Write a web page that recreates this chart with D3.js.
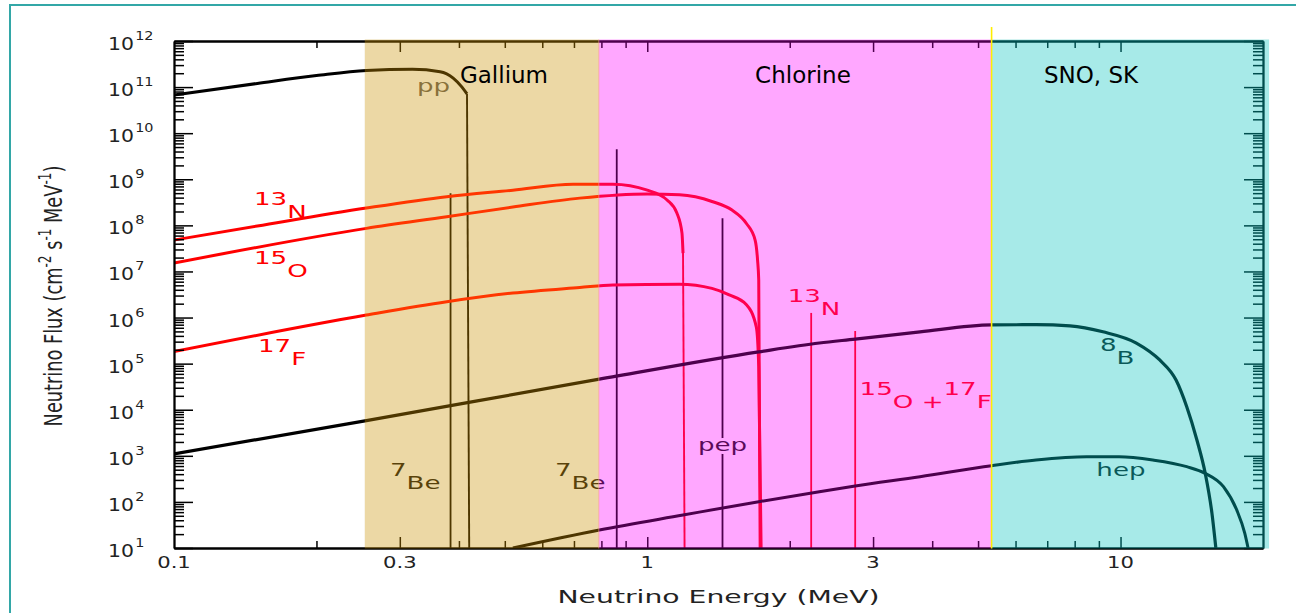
<!DOCTYPE html>
<html>
<head>
<meta charset="utf-8">
<script src="https://cdn.jsdelivr.net/npm/d3@7"></script>
<style>
  body { margin: 0; background: #fff; }
  svg { display: block; }
  text { font-family: "DejaVu Sans", sans-serif; }
</style>
</head>
<body>
<div id="chart"></div>
<script>
// Overall size and the plot box
const W = 1296, H = 613;
const margin = {top: 41, right: 33, bottom: 65, left: 174};

// Detector thresholds (MeV)
const bandNames = ["Gallium", "Chlorine", "SNO, SK"];
const bandFrom = [0.253, 0.79, 5.34];
const bandTo = [0.79, 5.34, 20.6];
const bandColors = ["#ecd9a6", "#ffa8ff", "#a8eae8"];   // colour as seen
const bandTints = ["#ffb400", "#ff00ff", "#00ffff"];    // what the band does to the lines in it
const bandTitleE = [0.402, 1.69, 6.89];
const tintAlpha = 0.3;

// Continuum spectra: energy (MeV) and flux (cm^-2 s^-1 MeV^-1)
const ppEnergy = [0.1, 0.15, 0.2, 0.255, 0.319, 0.365, 0.389, 0.406, 0.416, 0.4205];
const ppFlux   = [6.7e10, 1.2e11, 1.78e11, 2.3e11, 2.43e11, 2.16e11, 1.57e11, 1.0e11, 7.1e10, 10];

const n13Energy = [0.1, 0.15, 0.255, 0.377, 0.52, 0.697, 0.846, 1.0, 1.101, 1.155, 1.184, 1.19, 1.199];
const n13Flux   = [4.8e7, 9.7e7, 2.38e8, 4.2e8, 5.8e8, 7.8e8, 7.8e8, 5.8e8, 3.55e8, 1.85e8, 6.8e7, 2.5e7, 10];

const o15Energy = [0.1, 0.255, 0.377, 0.52, 0.72, 1.0, 1.17, 1.37, 1.51, 1.62, 1.69, 1.71, 1.72, 1.732];
const o15Flux   = [1.52e7, 8.6e7, 1.54e8, 2.5e8, 3.9e8, 4.8e8, 4.6e8, 3.3e8, 2.15e8, 1.1e8, 4.8e7, 1.8e7, 6.5e6, 10];

const f17Energy = [0.1, 0.255, 0.377, 0.52, 0.72, 0.846, 1.17, 1.37, 1.49, 1.62, 1.70, 1.72, 1.74];
const f17Flux   = [1.82e5, 1.13e6, 2.2e6, 3.4e6, 4.5e6, 5.1e6, 5.3e6, 4.3e6, 3.1e6, 1.9e6, 6.2e5, 8.5e4, 10];

const b8Energy = [0.1, 0.255, 0.792, 1.72, 2.31, 2.75, 3.77, 5.34, 6.63, 7.82, 9.18, 10.8, 12.1, 13.1, 13.8, 14.5, 15.1, 15.6, 15.9];
const b8Flux   = [1.1e3, 5.8e3, 4.6e4, 1.8e5, 2.8e5, 3.4e5, 4.9e5, 6.9e5, 7.0e5, 6.6e5, 4.9e5, 2.8e5, 1.2e5, 4.4e4, 1.16e4, 2.2e3, 417, 57, 10];

const hepEnergy = [0.52, 0.792, 1.19, 1.72, 2.31, 2.75, 3.77, 5.34, 6.63, 8.48, 9.93, 11.7, 13.8, 15.1, 16.5, 17.6, 18.3, 18.6];
const hepFlux   = [10, 24.6, 52, 101, 166, 221, 352, 611, 811, 957, 957, 811, 581, 417, 214, 67, 21, 10];

// Line spectra
const lineNames  = ["7Be", "7Be", "pep", "13N", "15O+17F"];
const lineEnergy = [0.384, 0.862, 1.442, 2.22, 2.75];
const lineFlux   = [5.0e8, 4.5e9, 1.42e8, 1.26e6, 5.1e5];
const lineColors = ["#000", "#000", "#000", "#ff0000", "#ff0000"];

// Axis ticks
const xMajor = [0.3, 1, 3, 10];
const xMinor = [0.2, 0.4, 0.5, 0.6, 0.7, 0.8, 0.9, 2, 4, 5, 6, 7, 8, 9];
const xLabels = ["0.1", "0.3", "1", "3", "10"];
const xLabelAt = [0.1, 0.3, 1, 3, 10];
const yExponents = [1, 2, 3, 4, 5, 6, 7, 8, 9, 10, 11, 12];

const x = d3.scaleLog().domain([0.1, 20]).range([margin.left, W - margin.right]);
const y = d3.scaleLog().domain([10, 1e12]).range([H - margin.bottom, margin.top]);

const svg = d3.select("#chart").append("svg")
    .attr("width", W)
    .attr("height", H);

// base colour chosen so that base + tint overlay gives the seen colour
function baseColor(seen, tint) {
  const s = d3.rgb(seen), t = d3.rgb(tint), a = tintAlpha;
  const f = (c1, c2) => Math.max(0, Math.min(255, (c1 - a * c2) / (1 - a)));
  return d3.rgb(f(s.r, t.r), f(s.g, t.g), f(s.b, t.b)).formatHex();
}

const bands = bandNames.map((n, i) => ({
  name: n, from: bandFrom[i], to: bandTo[i], titleE: bandTitleE[i],
  base: baseColor(bandColors[i], bandTints[i]), tint: bandTints[i]
}));
const yTop = y(1e12) - 1.5, yBot = y(10) + 0.5;

// background bands
svg.append("g")
  .selectAll("rect")
  .data(bands)
  .join("rect")
  .attr("x", d => x(d.from))
  .attr("width", d => x(d.to) - x(d.from))
  .attr("y", yTop)
  .attr("height", yBot - yTop)
  .attr("fill", d => d.base);

svg.append("clipPath").attr("id", "plot")
  .append("rect")
  .attr("x", x(0.1)).attr("y", y(1e12))
  .attr("width", x(20) - x(0.1)).attr("height", y(10) - y(1e12));

// thinTail: the endpoint drop is drawn as a thin line
const curves = [
  {e: ppEnergy, f: ppFlux, color: "#000", w: 3, thinTail: true},
  {e: n13Energy, f: n13Flux, color: "#ff0000", w: 3, thinTail: true},
  {e: o15Energy, f: o15Flux, color: "#ff0000", w: 3},
  {e: f17Energy, f: f17Flux, color: "#ff0000", w: 3},
  {e: b8Energy, f: b8Flux, color: "#000", w: 3.2},
  {e: hepEnergy, f: hepFlux, color: "#000", w: 3}
];

const line = d3.line()
  .x(d => x(d[0]))
  .y(d => y(d[1]))
  .curve(d3.curveMonotoneX);

const plot = svg.append("g").attr("clip-path", "url(#plot)");

// monochromatic lines
plot.append("g")
  .selectAll("line")
  .data(lineEnergy.map((e, i) => ({e, f: lineFlux[i], color: lineColors[i]})))
  .join("line")
  .attr("x1", d => x(d.e)).attr("x2", d => x(d.e))
  .attr("y1", y(10)).attr("y2", d => y(d.f))
  .attr("stroke", d => d.color)
  .attr("stroke-width", 1.8);

curves.forEach(c => {
  const pts = c.e.map((e, i) => [e, c.f[i]]);
  const body = c.thinTail ? pts.slice(0, -1) : pts;
  plot.append("path")
    .attr("fill", "none")
    .attr("stroke", c.color)
    .attr("stroke-width", c.w)
    .attr("stroke-linejoin", "round")
    .attr("d", line(body));
  if (c.thinTail) {
    plot.append("path")
      .attr("fill", "none")
      .attr("stroke", c.color)
      .attr("stroke-width", 1.9)
      .attr("d", d3.line().x(d => x(d[0])).y(d => y(d[1]))(pts.slice(-2)));
  }
});

// source labels
const annotations = [
  {e: 0.1476, f: 1.45e8, parts: [["13", 1], ["N", 0]], color: "#ff0000"},
  {e: 0.1476, f: 7.6e6, parts: [["15", 1], ["O", 0]], color: "#ff0000"},
  {e: 0.1505, f: 9.3e4, parts: [["17", 1], ["F", 0]], color: "#ff0000"},
  {e: 0.326, f: 7.8e10, parts: [["pp", 0]], color: "#555"},
  {e: 0.286, f: 190, parts: [["7", 1], ["Be", 0]], color: "#111"},
  {e: 0.638, f: 190, parts: [["7", 1], ["Be", 0]], color: "#111"},
  {e: 1.442, f: 1274, parts: [["pep", 0]], color: "#111", anchor: "middle", halo: 1},
  {e: 1.98, f: 1.13e6, parts: [["13", 1], ["N", 0]], color: "#ff0000"},
  {e: 2.81, f: 1.1e4, parts: [["15", 1], ["O", 0], [" +", 0], ["17", 1], ["F", 0]], color: "#ff0000"},
  {e: 9.05, f: 9.8e4, parts: [["8", 1], ["B", 0]], color: "#111"},
  {e: 8.89, f: 365, parts: [["hep", 0]], color: "#111"}
];

function addParts(t, parts, rise) {
  let shift = 0;
  parts.forEach(([s, sup]) => {
    const target = sup ? -rise : 0;
    t.append("tspan").attr("dy", target - shift).text(s);
    shift = target;
  });
}

const ann = svg.append("g").attr("font-size", 18);
annotations.forEach(a => {
  const make = () => {
    const t = ann.append("text")
      .attr("transform", `translate(${x(a.e)},${y(a.f)}) scale(1.45,1)`)
      .attr("text-anchor", a.anchor || "start")
      .attr("fill", a.color);
    addParts(t, a.parts, 13);
    return t;
  };
  if (a.halo !== undefined) {
    const c = bands[a.halo].base;
    make().attr("stroke", c).attr("stroke-width", 6).attr("fill", c);
  }
  make();
});

// axes
function styleAxis(g) {
  g.select(".domain").attr("stroke", "#000").attr("stroke-width", 1.8);
  g.selectAll(".tick line").attr("stroke", "#000").attr("stroke-width", 1.5);
}
const yMinor = [];
yExponents.slice(0, -1).forEach(k => { for (let m = 2; m < 10; m++) yMinor.push(m * Math.pow(10, k)); });
const yMajor = yExponents.map(k => Math.pow(10, k));

const axes = svg.append("g");
axes.append("g").attr("transform", `translate(0,${y(10)})`)
  .call(d3.axisBottom(x).tickValues(xMajor).tickSize(-11).tickSizeOuter(0).tickFormat("")).call(styleAxis);
axes.append("g").attr("transform", `translate(0,${y(10)})`)
  .call(d3.axisBottom(x).tickValues(xMinor).tickSize(-7).tickSizeOuter(0).tickFormat("")).call(styleAxis);
axes.append("g").attr("transform", `translate(0,${y(1e12)})`)
  .call(d3.axisTop(x).tickValues(xMajor).tickSize(-11).tickSizeOuter(0).tickFormat("")).call(styleAxis);
axes.append("g").attr("transform", `translate(0,${y(1e12)})`)
  .call(d3.axisTop(x).tickValues(xMinor).tickSize(-7).tickSizeOuter(0).tickFormat("")).call(styleAxis);
axes.append("g").attr("transform", `translate(${x(0.1)},0)`)
  .call(d3.axisLeft(y).tickValues(yMajor).tickSize(-19).tickSizeOuter(0).tickFormat("")).call(styleAxis);
axes.append("g").attr("transform", `translate(${x(0.1)},0)`)
  .call(d3.axisLeft(y).tickValues(yMinor).tickSize(-10).tickSizeOuter(0).tickFormat("")).call(styleAxis);
axes.append("g").attr("transform", `translate(${x(20)},0)`)
  .call(d3.axisRight(y).tickValues(yMajor).tickSize(-19).tickSizeOuter(0).tickFormat("")).call(styleAxis);
axes.append("g").attr("transform", `translate(${x(20)},0)`)
  .call(d3.axisRight(y).tickValues(yMinor).tickSize(-10).tickSizeOuter(0).tickFormat("")).call(styleAxis);

// tint everything inside the bands
svg.append("g")
  .selectAll("rect")
  .data(bands)
  .join("rect")
  .attr("x", d => x(d.from))
  .attr("width", d => x(d.to) - x(d.from))
  .attr("y", yTop)
  .attr("height", yBot - yTop)
  .attr("fill", d => d.tint)
  .attr("fill-opacity", tintAlpha);

svg.append("line")
  .attr("x1", x(bandFrom[1])).attr("x2", x(bandFrom[1]))
  .attr("y1", yTop).attr("y2", yBot)
  .attr("stroke", "#f5a08a").attr("stroke-width", 1).attr("opacity", 0.6);
svg.append("line")
  .attr("x1", x(bandFrom[2])).attr("x2", x(bandFrom[2]))
  .attr("y1", 27).attr("y2", yBot)
  .attr("stroke", "#ffee00").attr("stroke-width", 1.6);

// band titles
svg.append("g")
  .selectAll("text")
  .data(bands)
  .join("text")
  .attr("x", d => x(d.titleE))
  .attr("y", 83)
  .attr("font-size", 23)
  .attr("fill", "#000")
  .text(d => d.name);

// tick labels
svg.append("g")
  .selectAll("text")
  .data(xLabelAt)
  .join("text")
  .attr("transform", d => `translate(${x(d)},568) scale(1.32,1)`)
  .attr("text-anchor", "middle")
  .attr("font-size", 16)
  .attr("fill", "#222")
  .text((d, i) => xLabels[i]);

const yl = svg.append("g")
  .selectAll("text")
  .data(yExponents)
  .join("text")
  .attr("transform", d => `translate(108,${y(Math.pow(10, d)) + 9}) scale(1.2,1)`)
  .attr("font-size", 17)
  .attr("fill", "#222");
yl.append("tspan").text("10");
yl.append("tspan").attr("dy", -10).attr("dx", 1).attr("font-size", 12).text(d => d);

// axis titles
svg.append("text")
  .attr("x", (x(0.1) + x(20)) / 2)
  .attr("y", 603)
  .attr("text-anchor", "middle")
  .attr("font-size", 18)
  .attr("fill", "#222")
  .attr("textLength", 322)
  .attr("lengthAdjust", "spacingAndGlyphs")
  .text("Neutrino Energy (MeV)");

const yt = svg.append("text")
  .attr("transform", "translate(62,296) rotate(-90) scale(0.71,1)")
  .attr("text-anchor", "middle")
  .attr("font-family", "Liberation Sans, sans-serif")
  .attr("font-size", 25)
  .attr("fill", "#222");
addParts(yt, [["Neutrino Flux (cm", 0], ["-2", 1], [" s", 0], ["-1", 1], [" MeV", 0], ["-1", 1], [")", 0]], 11);
yt.selectAll("tspan").filter((d, i) => i % 2 === 1).attr("font-size", 17);

// slide frame
svg.append("path")
  .attr("d", "M10,613V5H1296")
  .attr("fill", "none")
  .attr("stroke", "#33a7a7")
  .attr("stroke-width", 2);
</script>
</body>
</html>
